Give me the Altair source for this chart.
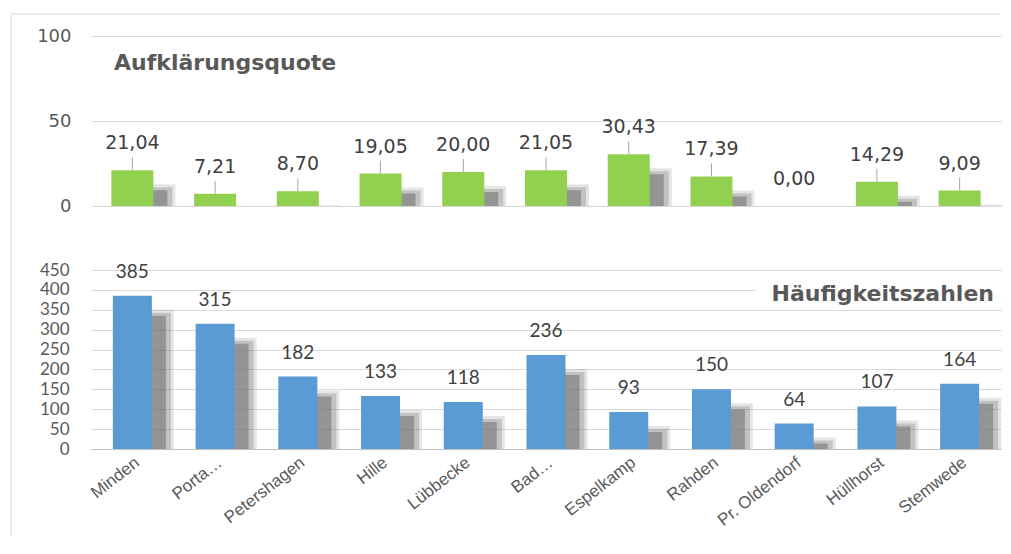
import altair as alt
import pandas as pd

# ---------------- data ----------------
orte = ["Minden", "Porta…", "Petershagen", "Hille", "Lübbecke", "Bad…",
        "Espelkamp", "Rahden", "Pr. Oldendorf", "Hüllhorst", "Stemwede"]
aufklaerungsquote = [21.04, 7.21, 8.70, 19.05, 20.00, 21.05, 30.43, 17.39, 0.00, 14.29, 9.09]
haeufigkeitszahlen = [385, 315, 182, 133, 118, 236, 93, 150, 64, 107, 164]
top_ticks = [0, 50, 100]
bottom_ticks = [0, 50, 100, 150, 200, 250, 300, 350, 400, 450]
title_top = ["Aufklärungsquote"]
title_bottom = ["Häufigkeitszahlen"]

df = pd.DataFrame({"ort": orte, "aq": aufklaerungsquote, "hz": haeufigkeitszahlen})
df["aq_label"] = [f"{v:.2f}".replace(".", ",") for v in aufklaerungsquote]
df["hz_label"] = [str(v) for v in haeufigkeitszahlen]
one = pd.DataFrame({"k": [0]})

# ---------------- styling ----------------
W = 910
H_TOP = 170
H_BOT = 179
SHIFT_X = 17
GREEN = "#92D050"
BLUE = "#5B9BD5"
SHADOW = "#6f6f6f"
GRID = "#d9d9d9"
TXT = "#404040"
TITLE_C = "#595959"

x_top = alt.X("ort:N", sort=orte, axis=None)
x_bot = alt.X("ort:N", sort=orte, title=None,
              axis=alt.Axis(labelAngle=322, labelFont="Liberation Sans", labelFontSize=17,
                            labelColor=TITLE_C, ticks=False, domainColor="#bfbfbf",
                            labelPadding=5, grid=False))

ys_top = alt.Scale(domain=[0, 100], nice=False)
ys_bot = alt.Scale(domain=[0, 450], nice=False)
ax_top = alt.Axis(values=top_ticks, domain=False, ticks=False,
                  labelFont="DejaVu Sans", labelFontSize=18, labelColor=TITLE_C,
                  labelPadding=20, gridColor=GRID, labelOverlap=False)
ax_bot = alt.Axis(values=bottom_ticks, domain=False, ticks=False,
                  labelFont="Lato", labelFontSize=17, labelColor=TITLE_C,
                  labelPadding=22, gridColor=GRID, labelOverlap=False)


def Y(field, scale, axis):
    return alt.Y(field, scale=scale, axis=axis, stack=None, title=None)


def shadows(field, px_per_unit, width, yscale, yaxis, xenc):
    out = []
    for extra_w, off_px, op in [(10, 14, 0.18), (4, 17, 0.3), (-6, 20, 0.55)]:
        out.append(
            alt.Chart(df)
            .transform_calculate(s=f"max(datum.{field} - {off_px / px_per_unit}, 0)")
            .transform_filter("datum.s > 0")
            .mark_bar(color=SHADOW, opacity=op, width=width + extra_w, xOffset=SHIFT_X)
            .encode(x=xenc, y=Y("s:Q", yscale, yaxis))
        )
    return out


# ---------------- top panel ----------------
frame_top = alt.Chart(one).mark_rule(color=GRID).encode(
    x=alt.value(-80), x2=alt.value(W), y=alt.value(-22))
frame_left = alt.Chart(one).mark_rule(color=GRID).encode(
    x=alt.value(-80), y=alt.value(-22), y2=alt.value(500))

bars_top = alt.Chart(df).mark_bar(color=GREEN, width=42).encode(
    x=x_top, y=Y("aq:Q", ys_top, ax_top))

leaders = alt.Chart(df).transform_filter("datum.aq > 0").mark_rule(
    color="#a6a6a6", yOffset=-13).encode(
    x=x_top, y=Y("aq:Q", ys_top, ax_top), y2="aq:Q")

labels_top = alt.Chart(df).mark_text(
    baseline="bottom", dy=-17, font="DejaVu Sans", fontSize=19, color=TXT).encode(
    x=x_top, y=Y("aq:Q", ys_top, ax_top), text="aq_label:N")

ttl_top = alt.Chart(pd.DataFrame({"t": title_top})).mark_text(
    align="left", baseline="middle", font="DejaVu Sans", fontSize=22,
    fontWeight="bold", color=TITLE_C).encode(
    x=alt.value(23), y=alt.value(27), text="t:N")

top = alt.layer(*shadows("aq", H_TOP / 100, 42, ys_top, ax_top, x_top),
                bars_top, leaders, labels_top, frame_top, frame_left, ttl_top
                ).properties(width=W, height=H_TOP)

# ---------------- bottom panel ----------------
bars_bot = alt.Chart(df).mark_bar(color=BLUE, width=39).encode(
    x=x_bot, y=Y("hz:Q", ys_bot, ax_bot))

labels_bot = alt.Chart(df).mark_text(
    baseline="bottom", dy=-14, font="Lato", fontSize=19, color=TXT).encode(
    x=x_bot, y=Y("hz:Q", ys_bot, ax_bot), text="hz_label:N")

ttl_bg = alt.Chart(one).mark_rect(color="white").encode(
    x=alt.value(665), x2=alt.value(W), y=alt.value(11), y2=alt.value(33))
ttl_bot = alt.Chart(pd.DataFrame({"t": title_bottom})).mark_text(
    align="right", baseline="middle", font="DejaVu Sans", fontSize=22,
    fontWeight="bold", color=TITLE_C).encode(
    x=alt.value(903), y=alt.value(24), text="t:N")

bottom = alt.layer(*shadows("hz", H_BOT / 450, 39, ys_bot, ax_bot, x_bot),
                   bars_bot, labels_bot, ttl_bg, ttl_bot).properties(width=W, height=H_BOT)

chart = alt.vconcat(top, bottom, spacing=64, bounds="flush").properties(
    padding={"left": 2, "top": 5, "right": 0, "bottom": 5},
    background="white",
).configure_view(stroke=None)

chart.save("out.html", embed_options={"renderer": "svg", "actions": False})
